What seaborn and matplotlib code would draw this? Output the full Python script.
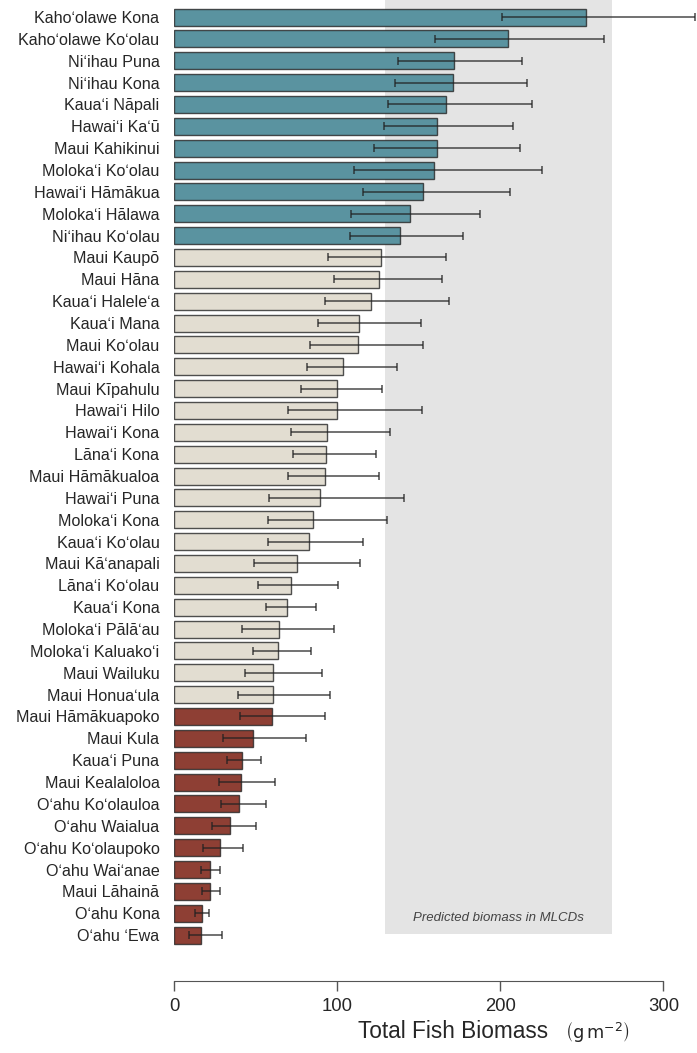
import numpy as np
import pandas as pd
import matplotlib
matplotlib.use("Agg")
import matplotlib.pyplot as plt
import seaborn as sns

# Data (g m^-2), sorted high -> low
sectors = [
    "Kahoʻolawe Kona", "Kahoʻolawe Koʻolau", "Niʻihau Puna", "Niʻihau Kona",
    "Kauaʻi Nāpali", "Hawaiʻi Kaʻū", "Maui Kahikinui", "Molokaʻi Koʻolau",
    "Hawaiʻi Hāmākua", "Molokaʻi Hālawa", "Niʻihau Koʻolau", "Maui Kaupō",
    "Maui Hāna", "Kauaʻi Haleleʻa", "Kauaʻi Mana", "Maui Koʻolau",
    "Hawaiʻi Kohala", "Maui Kīpahulu", "Hawaiʻi Hilo", "Hawaiʻi Kona",
    "Lānaʻi Kona", "Maui Hāmākualoa", "Hawaiʻi Puna", "Molokaʻi Kona",
    "Kauaʻi Koʻolau", "Maui Kāʻanapali", "Lānaʻi Koʻolau", "Kauaʻi Kona",
    "Molokaʻi Pālāʻau", "Molokaʻi Kaluakoʻi", "Maui Wailuku", "Maui Honuaʻula",
    "Maui Hāmākuapoko", "Maui Kula", "Kauaʻi Puna", "Maui Kealaloloa",
    "Oʻahu Koʻolauloa", "Oʻahu Waialua", "Oʻahu Koʻolaupoko", "Oʻahu Waiʻanae",
    "Maui Lāhainā", "Oʻahu Kona", "Oʻahu ʻEwa",
]
biomass = [
    252.4, 205.0, 171.9, 171.1, 166.8, 161.5, 161.1, 159.2, 152.5, 144.5, 138.4,
    126.7, 125.5, 120.6, 113.4, 113.0, 103.4, 100.1, 99.7, 94.0, 93.4, 92.4,
    89.5, 85.4, 82.6, 75.4, 71.5, 69.1, 64.2, 64.0, 60.9, 60.7,
    59.9, 48.4, 41.9, 40.9, 39.9, 34.1, 28.0, 22.3, 22.1, 17.0, 16.6,
]
ci_low = [
    200.9, 159.8, 137.5, 135.5, 131.0, 128.8, 122.4, 110.4, 116.1, 108.5, 107.9,
    94.2, 97.9, 92.6, 88.3, 83.4, 81.4, 77.9, 69.7, 71.5, 73.1, 69.7,
    58.1, 57.8, 57.8, 49.1, 51.5, 56.6, 41.9, 48.6, 43.5, 39.4,
    40.3, 29.8, 32.7, 27.6, 29.0, 23.3, 18.0, 16.7, 17.4, 12.7, 9.2,
]
ci_high = [
    319.4, 263.4, 213.6, 216.2, 219.5, 208.1, 212.1, 225.8, 206.0, 187.6, 177.0,
    166.8, 164.5, 168.6, 151.2, 152.7, 136.7, 127.5, 151.8, 132.4, 123.6, 125.5,
    140.8, 130.6, 116.1, 114.0, 100.6, 86.9, 97.9, 84.0, 90.7, 95.8,
    92.4, 80.7, 53.3, 61.9, 56.6, 50.5, 42.3, 28.2, 28.0, 21.6, 29.4,
]
group = ["high"] * 11 + ["mid"] * 21 + ["low"] * 11
mlcd_range = [129.4, 268.5]

df = pd.DataFrame({"sector": sectors, "biomass": biomass,
                   "lo": ci_low, "hi": ci_high, "group": group})

sns.set_style("white")
plt.rcParams["font.family"] = ["Liberation Sans", "DejaVu Sans"]

fig = plt.figure(figsize=(6.97, 10.53), dpi=100)
ax = fig.add_axes([0.2496, 0.0684, 0.7490, 0.9316])

# shaded band for predicted biomass in MLCDs
ax.fill_betweenx([-0.8, 41.95], mlcd_range[0], mlcd_range[1],
                 color="#e4e4e4", lw=0, zorder=0)

palette = {"high": "#5a93a0", "mid": "#e2ddd1", "low": "#8e3f34"}
sns.barplot(data=df, x="biomass", y="sector", hue="group", palette=palette,
            orient="h", dodge=False, width=0.78, legend=False,
            edgecolor=(0.15, 0.15, 0.15, 0.8), linewidth=1.0, saturation=1,
            ax=ax, zorder=2)

ypos = np.arange(len(df))
ax.errorbar(df["biomass"], ypos,
            xerr=[df["biomass"] - df["lo"], df["hi"] - df["biomass"]],
            fmt="none", ecolor="#222222", alpha=0.75, elinewidth=1.2,
            capsize=2.6, capthick=1.2, zorder=3, clip_on=False)

ax.text(np.mean(mlcd_range), 41.2, "Predicted biomass in MLCDs",
        ha="center", va="center", style="italic", fontsize=9.5, color="#444444")

ax.set_xlim(0, 320)
ax.set_ylim(44.1, -0.78)
ax.set_xticks([0, 100, 200, 300])
ax.set_ylabel("")
ax.set_xlabel("Total Fish Biomass", fontsize=16.3)
ax.xaxis.set_label_coords(0.5354, -0.040)
# units drawn a bit smaller, as in the original
ax.text(0.811, -0.0585, r"$\left(\mathrm{g\,m}^{-2}\right)$", fontsize=12.8,
        transform=ax.transAxes, ha="center", va="baseline")

for s in ["top", "right", "left"]:
    ax.spines[s].set_visible(False)
ax.spines["bottom"].set_bounds(0, 300)
ax.spines["bottom"].set_color("#555555")
ax.tick_params(axis="x", length=7, width=1, color="#555555", labelsize=13.3, pad=5,
               bottom=True)
ax.tick_params(axis="y", length=0, labelsize=11.6, pad=10.5)

fig.savefig("out.png", dpi=100)
